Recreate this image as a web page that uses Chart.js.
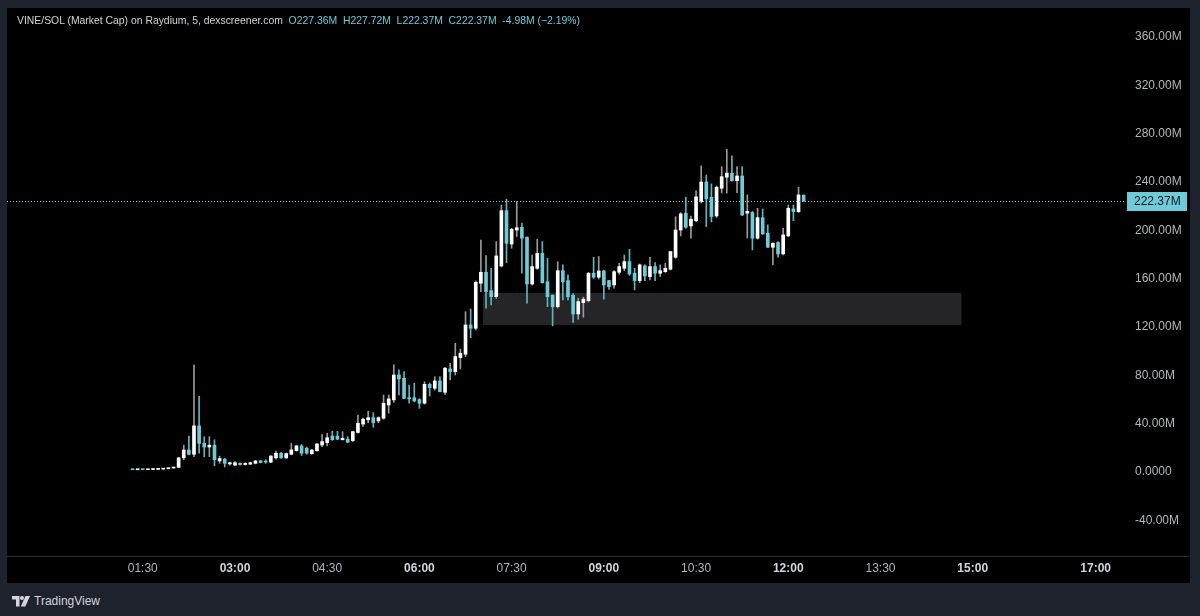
<!DOCTYPE html>
<html>
<head>
<meta charset="utf-8">
<script src="https://cdn.jsdelivr.net/npm/chart.js@4.4.1/dist/chart.umd.min.js"></script>
<style>
  body { margin: 0; background: #1e222d; width: 1200px; height: 616px; overflow: hidden; font-family: "Liberation Sans", Arial, sans-serif; }
  #panel { position: absolute; left: 7px; top: 8px; width: 1183px; height: 575px; background: #000; }
  #legend { position: absolute; left: 10px; top: 6px; font-size: 10.4px; line-height: 14px; color: #d1d4dc; white-space: pre; }
  #legend .v { color: #6fcbd8; }
  #footer { position: absolute; left: 12px; top: 594px; font-size: 12px; color: #d1d4dc; display: flex; align-items: center; gap: 4px; }
</style>
</head>
<body>
<div id="panel">
  <canvas id="chart" width="1183" height="575"></canvas>
  <div id="legend">VINE/SOL (Market Cap) on Raydium, 5, dexscreener.com  <span class="v">O227.36M  H227.72M  L222.37M  C222.37M  -4.98M (−2.19%)</span></div>
</div>
<div id="footer">
  <svg width="18" height="11" viewBox="0 0 18 11"><path fill="#d1d4dc" d="M0 0h7.5v10.5H4V3.5H0z"/><circle fill="#d1d4dc" cx="10" cy="2" r="2"/><path fill="#d1d4dc" d="M13.5 0H18l-4.7 10.5H8.8z"/></svg>
  <span>TradingView</span>
</div>
<script>
// 5-minute candles, market cap in millions
const times = [
  '01:20','01:25','01:30','01:35','01:40','01:45','01:50','01:55',
  '02:00','02:05','02:10','02:15','02:20','02:25','02:30','02:35','02:40','02:45','02:50','02:55',
  '03:00','03:05','03:10','03:15','03:20','03:25','03:30','03:35','03:40','03:45','03:50','03:55',
  '04:00','04:05','04:10','04:15','04:20','04:25','04:30','04:35','04:40','04:45','04:50','04:55',
  '05:00','05:05','05:10','05:15','05:20','05:25','05:30','05:35','05:40','05:45','05:50','05:55',
  '06:00','06:05','06:10','06:15','06:20','06:25','06:30','06:35','06:40','06:45','06:50','06:55',
  '07:00','07:05','07:10','07:15','07:20','07:25','07:30','07:35','07:40','07:45','07:50','07:55',
  '08:00','08:05','08:10','08:15','08:20','08:25','08:30','08:35','08:40','08:45','08:50','08:55',
  '09:00','09:05','09:10','09:15','09:20','09:25','09:30','09:35','09:40','09:45','09:50','09:55',
  '10:00','10:05','10:10','10:15','10:20','10:25','10:30','10:35','10:40','10:45','10:50','10:55',
  '11:00','11:05','11:10','11:15','11:20','11:25','11:30','11:35','11:40','11:45','11:50','11:55',
  '12:00','12:05','12:10','12:15'
];
const opens = [
  0.3,0.2,0.3,0.2,0.4,0.5,0.7,1.0,
  1.6,2.2,10,16.5,13,36.5,22,19,20.5,7.5,9,5,
  4,5.5,4.5,4.8,5.5,7.5,7,6.5,10,13.8,10,13,
  16,19.9,18,13.5,16,20.7,22.6,28,28,25,25.5,24.3,
  31,38,41.5,43.3,40.6,42.8,53.8,58,78.6,75.9,59.8,59.8,
  58.2,55.2,70.9,67.6,73.7,64.3,83.6,81.4,93,95.8,120,117.3,
  154.5,163.6,148.4,143.4,168.8,214.6,187,198.6,200.8,192.6,153.9,166.9,
  179.3,155.8,144.6,135.1,164.9,156.7,144.6,129.1,138.4,140.1,162.8,159.5,
  164.7,156.7,153.1,163.6,166.9,172.4,162.8,156.7,168.8,160,168.3,162.8,
  164.1,166.1,176,198.6,212.5,201.9,206.3,222,238.3,225.6,210.2,233.1,
  242.3,245.6,239.4,243.3,212.5,213,191.8,208.8,195.9,184.3,188.2,178.8,
  193.7,216,213.8,227.36
];
const highs = [
  0.4,0.4,0.4,0.5,0.6,0.8,1.2,1.8,
  2.4,10.5,20.5,28,87,61,27.5,27.5,25,11.5,9.5,6.5,
  7,6,6,6.5,8,8,8.5,12,15.7,14.5,14,22,
  20.5,21,19,17,22,29.3,30.4,32,32,31.7,27.6,32,
  45.5,43,48.6,47.4,44,62,62,87,82.8,81.4,70.3,71.8,
  59,73,72,77.2,77.2,85,88.3,104.9,100,131,133.2,156.4,
  190.3,177.4,166.9,189,219.3,224,200,222.1,204.3,193,177.9,190.9,
  189,175.2,145,172.4,169.7,161.4,146,142.1,143,163.5,176,176.6,
  165.5,157,165,171,177.9,182.6,166.9,170.5,169.7,176,171.6,169.7,
  171,181,209.6,213,225.7,210.2,231,251.6,244.1,236.7,235,251,
  265.4,259.9,251,251,227.6,214,216.6,216,202.8,188,189,200,
  219.3,219.3,234,227.72
];
const lows = [
  0.2,0.1,0.2,0.2,0.3,0.4,0.6,0.9,
  1.4,2,8.5,12.5,11,14,11,11,3.5,5.5,2.5,4,
  3.8,4,4,4.5,5,5.8,5.5,6,9,9.5,9.5,12.5,
  15.5,12,13,13,15.5,19.3,20,24.5,25,24.8,22.5,23.5,
  30.5,36,39,35.3,39,42,47,56,62,59,55.2,56.5,
  51,54.5,61.2,66.2,64.5,62.5,74.5,78.6,83.6,93.8,109.5,115.9,
  147.6,133.8,136.6,142,168,171.6,183.5,193.2,162.8,138,153,166,
  154.5,135.1,119.2,134,140.7,140.7,122,124.7,126.4,139,158.5,158,
  141.3,149.5,150.4,162,165,161,149,155,156.7,157.2,156.7,160,
  163.5,165.5,175.2,193.7,200,191.8,205.5,221,201.4,205.2,209,229.2,
  229.2,239,229.5,210.5,192,182.1,191,195,184,169.7,176,178,
  193,206.3,213,222.37
];
const closes = [
  0.2,0.3,0.2,0.4,0.5,0.7,1.0,1.6,
  2.2,10,16.5,13,36.5,22,19,20.5,8.5,9.5,5.5,6,
  6,4.5,5.5,6,7.4,6.2,6.5,11.5,13.8,10,13.5,16.6,
  19.9,13.8,14,16.5,21.5,23.5,26.7,25,25.5,26.2,23,31.7,
  38.7,42,43.3,39.2,43.3,55.2,58.8,78.6,75.3,59.3,58.8,57.1,
  55.2,70.9,68.1,73.7,64.8,84.2,81.4,93.8,96.6,120,117.3,155.3,
  163.6,147.6,143.4,177.1,214.6,187.6,199.2,200.5,191.8,153.9,168.3,179.3,
  155,143.4,135.1,164.9,155.8,143.4,129.1,139.3,141.3,162.8,159.5,164.7,
  153.1,151.7,164.1,168.3,172.4,162.2,156.7,169.7,160.5,168.3,162.8,164.9,
  166.9,180.7,198.6,211.9,200.9,207.5,226,238.3,224.3,209.7,234,242.7,
  245.6,239.4,243.3,211,214,191.8,208.8,195.3,184.3,187.6,178.8,194.5,
  216.6,213.8,227.6,222.37
];

// axis labels
const timeTicks = ['01:30','03:00','04:30','06:00','07:30','09:00','10:30','12:00','13:30','15:00','17:00'];
const boldTimes = ['03:00','06:00','09:00','12:00','15:00','17:00'];
const priceTicks = [-40, 0, 40, 80, 120, 160, 200, 240, 280, 320, 360];

// marked zone and last price
const zoneLow = 120;
const zoneHigh = 146.5;
const zoneStart = '07:02';
const zoneEnd = '14:49';
const lastPrice = 222.37;

const upColor = '#ffffff';
const downColor = '#6fcbd8';
const upWick = '#9a9a9a';
const downWick = '#5fb4c0';
const fontFamily = '"Liberation Sans", Arial, sans-serif';

function toMin(t) {
  const p = t.split(':');
  return parseInt(p[0]) * 60 + parseInt(p[1]);
}
function fmtTime(m) {
  const h = Math.floor(m / 60), mm = Math.round(m % 60);
  return String(h).padStart(2, '0') + ':' + String(mm).padStart(2, '0');
}
function fmtPrice(v) {
  if (v === 0) return '0.0000';
  return v.toFixed(2) + 'M';
}
const isBold = c => !!(c && c.tick) && boldTimes.includes(fmtTime(c.tick.value));

const wickData = times.map((t, i) => ({ x: toMin(t), y: [lows[i], highs[i]] }));
const bodyData = times.map((t, i) => ({ x: toMin(t), y: [opens[i], closes[i]] }));
const isUp = i => closes[i] >= opens[i];

// zone box + last price line + price tag, drawn through the scales
const overlays = {
  id: 'overlays',
  beforeDatasetsDraw(chart) {
    const { ctx, scales: { x, y } } = chart;
    const x0 = x.getPixelForValue(toMin(zoneStart));
    const x1 = x.getPixelForValue(toMin(zoneEnd));
    const y0 = y.getPixelForValue(zoneHigh);
    const y1 = y.getPixelForValue(zoneLow);
    ctx.save();
    ctx.fillStyle = '#252528';
    ctx.fillRect(x0, y0, x1 - x0, y1 - y0);
    ctx.restore();
  },
  afterDraw(chart) {
    const { ctx, chartArea, scales: { y } } = chart;
    const py = Math.round(y.getPixelForValue(lastPrice)) + 0.5;
    ctx.save();
    ctx.strokeStyle = downColor;
    ctx.lineWidth = 1;
    ctx.setLineDash([1, 2]);
    ctx.beginPath();
    ctx.moveTo(chartArea.left, py);
    ctx.lineTo(chartArea.right, py);
    ctx.stroke();
    ctx.setLineDash([]);
    // tag on the price scale
    ctx.fillStyle = downColor;
    ctx.fillRect(chartArea.right + 1, py - 9.5, 60, 19);
    ctx.fillStyle = '#131722';
    ctx.font = '12px ' + fontFamily;
    ctx.textBaseline = 'middle';
    ctx.textAlign = 'left';
    ctx.fillText(fmtPrice(lastPrice), chartArea.right + 8, py + 0.5);
    // separator under the panes
    ctx.strokeStyle = '#2a2e39';
    ctx.beginPath();
    ctx.moveTo(0, chartArea.bottom + 0.5);
    ctx.lineTo(chart.width, chartArea.bottom + 0.5);
    ctx.stroke();
    ctx.restore();
  }
};

new Chart(document.getElementById('chart'), {
  type: 'bar',
  data: {
    datasets: [
      {
        label: 'wick',
        data: wickData,
        barThickness: 1,
        backgroundColor: c => isUp(c.dataIndex) ? upWick : downWick,
        grouped: false,
        order: 2
      },
      {
        label: 'body',
        data: bodyData,
        barThickness: 3,
        minBarLength: 1,
        backgroundColor: c => isUp(c.dataIndex) ? upColor : downColor,
        grouped: false,
        order: 1
      }
    ]
  },
  options: {
    responsive: false,
    devicePixelRatio: 1,
    animation: false,
    layout: { padding: 0 },
    plugins: {
      legend: { display: false },
      tooltip: { enabled: false },
      title: { display: false }
    },
    scales: {
      x: {
        type: 'linear',
        min: -42.5,
        max: 1049.6,
        offset: false,
        grid: { display: false, drawTicks: false },
        border: { display: false },
        afterBuildTicks: s => { s.ticks = timeTicks.map(t => ({ value: toMin(t) })); },
        afterFit: s => { s.height = 27; s.paddingLeft = 0; s.paddingRight = 0; },
        ticks: {
          autoSkip: false,
          maxRotation: 0,
          padding: 5,
          callback: v => fmtTime(v),
          color: c => isBold(c) ? '#d1d4dc' : '#b2b5be',
          font: c => ({ family: fontFamily, size: 12, weight: isBold(c) ? 'bold' : 'normal' })
        }
      },
      y: {
        position: 'right',
        min: -71.2,
        max: 382.3,
        grid: { display: false, drawTicks: false },
        border: { display: false },
        afterBuildTicks: s => { s.ticks = priceTicks.map(v => ({ value: v })); },
        afterFit: s => { s.width = 64; s.paddingTop = 0; s.paddingBottom = 0; },
        ticks: {
          padding: 9,
          labelOffset: 2,
          color: '#b2b5be',
          font: { family: fontFamily, size: 12 },
          callback: v => fmtPrice(v)
        }
      }
    }
  },
  plugins: [overlays]
});
</script>
</body>
</html>
